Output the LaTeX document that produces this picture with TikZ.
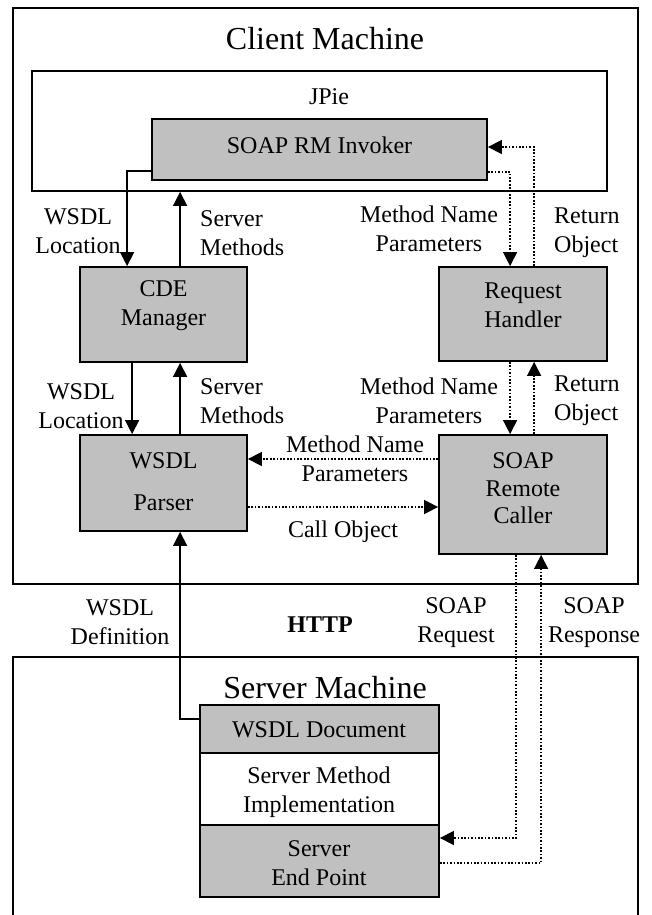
\documentclass[tikz,border=0pt]{standalone}
\usepackage{fontspec}
\setmainfont{Liberation Serif}
\usetikzlibrary{arrows.meta,calc}

\definecolor{boxgray}{RGB}{192,192,192}

\tikzset{
  frame/.style={draw=black, line width=1.8pt, inner sep=0pt},
  gbox/.style={frame, fill=boxgray},
  wbox/.style={frame, fill=white},
  txt/.style={inner sep=0pt, align=center, font=\fontsize{24}{29}\selectfont},
  ltxt/.style={txt, align=left, anchor=west},
  title/.style={inner sep=0pt, font=\fontsize{32}{38}\selectfont},
  link/.style={line width=1.5pt, -{Triangle[length=14pt,width=14pt]}},
  plain/.style={line width=1.5pt},
  dlink/.style={link, dash pattern=on 1.7pt off 1.7pt},
  dplain/.style={plain, dash pattern=on 1.7pt off 1.7pt}
}

\begin{document}
\begin{tikzpicture}[x=1pt,y=-1pt]
\useasboundingbox (0,0) rectangle (652,915);

% client machine frame and JPie frame
\node[frame, minimum width=625pt, minimum height=576pt] (client) at (325.5,296) {};
\node[title] (clientT) at (325,38.5) {Client Machine};
\node[frame, minimum width=575pt, minimum height=120pt] (jpie) at (319.5,131) {};
\node[txt] (jpieT) at (329,97) {JPie};

% client components
\node[gbox, minimum width=335pt, minimum height=61pt] (inv) at (319.5,149.5) {};
\node[txt] (invT) at (319.5,145.5) {SOAP RM Invoker};
\node[gbox, minimum width=167pt, minimum height=95pt] (cde) at (163.5,314.5) {};
\node[txt] (cdeT) at (163.5,305.5) {CDE\\Manager};
\node[gbox, minimum width=168pt, minimum height=94pt] (req) at (523,314) {};
\node[txt] (reqT) at (523,305.5) {Request\\Handler};
\node[gbox, minimum width=167pt, minimum height=96pt] (parser) at (163.5,483) {};
\node[txt] (parserT) at (163.5,482) {WSDL\\[13pt]Parser};
\node[gbox, minimum width=168pt, minimum height=119pt] (caller) at (523,494.5) {};
\node[txt, font=\fontsize{24}{27.5}\selectfont] (callerT) at (523,488.5) {SOAP\\Remote\\Caller};

% server machine frame (open at the bottom)
\draw[line width=1.8pt] (13,915) coordinate (smBL) -- (13,657) coordinate (smTL)
  -- (638,657) coordinate (smTR) -- (638,915) coordinate (smBR);
\node[title] (serverT) at (325,687.5) {Server Machine};

% server stack
\node[gbox, minimum width=239pt, minimum height=48pt] (doc) at (319.5,729) {};
\node[txt] (docT) at (319,729.5) {WSDL Document};
\node[wbox, minimum width=239pt, minimum height=72pt] (impl) at (319.5,789) {};
\node[txt] (implT) at (319,792) {Server Method\\Implementation};
\node[gbox, minimum width=239pt, minimum height=72pt] (ep) at (319.5,861) {};
\node[txt] (epT) at (319,863) {Server\\End Point};

% solid connectors
\draw[link] ($(inv.west)+(0,21.5)$) -| ($(cde.north west)+(48,0)$);
\draw[link] ($(cde.north west)+(101,0)$) coordinate (sm1) -- (sm1 |- jpie.south);
\draw[link] ($(cde.south west)+(53,0)$) coordinate (wl2) -- (wl2 |- parser.north);
\draw[link] ($(parser.north west)+(101,0)$) coordinate (sm2) -- (sm2 |- cde.south);
\draw[link] ($(doc.west)+(0,-10)$) -| ($(parser.south west)+(101,0)$);

% dotted connectors
\draw[dlink] ($(inv.east)+(0,22.5)$) -| ($(req.north west)+(72,0)$);
\draw[dlink] ($(req.north west)+(96,0)$) |- ($(inv.east)+(0,-2.5)$);
\draw[dlink] ($(req.south west)+(72,0)$) coordinate (mn2) -- (mn2 |- caller.north);
\draw[dlink] ($(caller.north west)+(96,0)$) coordinate (ro2) -- (ro2 |- req.south);
\draw[dlink] ($(caller.west)+(0,-35.5)$) coordinate (mn3) -- (mn3 -| parser.east);
\draw[dlink] ($(parser.east)+(0,24)$) coordinate (co) -- (co -| caller.west);
\draw[dlink] ($(caller.south west)+(78,0)$) |- ($(ep.east)+(0,-23)$);
\draw[dlink] ($(ep.east)+(0,2)$) -| ($(caller.south west)+(103,0)$);

% connector labels
\node[txt] (wl1T) at (78,231.5) {WSDL\\Location};
\node[ltxt] (sm1T) at (200,233) {Server\\Methods};
\node[txt] (mn1T) at (429,228.5) {Method Name\\Parameters};
\node[ltxt] (ro1T) at (554,233) {Return\\Object};
\node[txt] (wl2T) at (81,406) {WSDL\\Location};
\node[ltxt] (sm2T) at (200,401) {Server\\Methods};
\node[txt] (mn2T) at (429,401) {Method Name\\Parameters};
\node[ltxt] (ro2T) at (554,401) {Return\\Object};
\node[txt] (mn3T) at (355,458.5) {Method Name\\Parameters};
\node[txt] (coT) at (343,531.5) {Call Object};
\node[txt] (wdT) at (120,622.5) {WSDL\\Definition};
\node[txt, font=\fontsize{24}{29}\selectfont\bfseries] (httpT) at (320,624.5) {HTTP};
\node[txt] (srqT) at (456,622.5) {SOAP\\Request};
\node[txt] (srsT) at (594,622.5) {SOAP\\Response};
\end{tikzpicture}
\end{document}
